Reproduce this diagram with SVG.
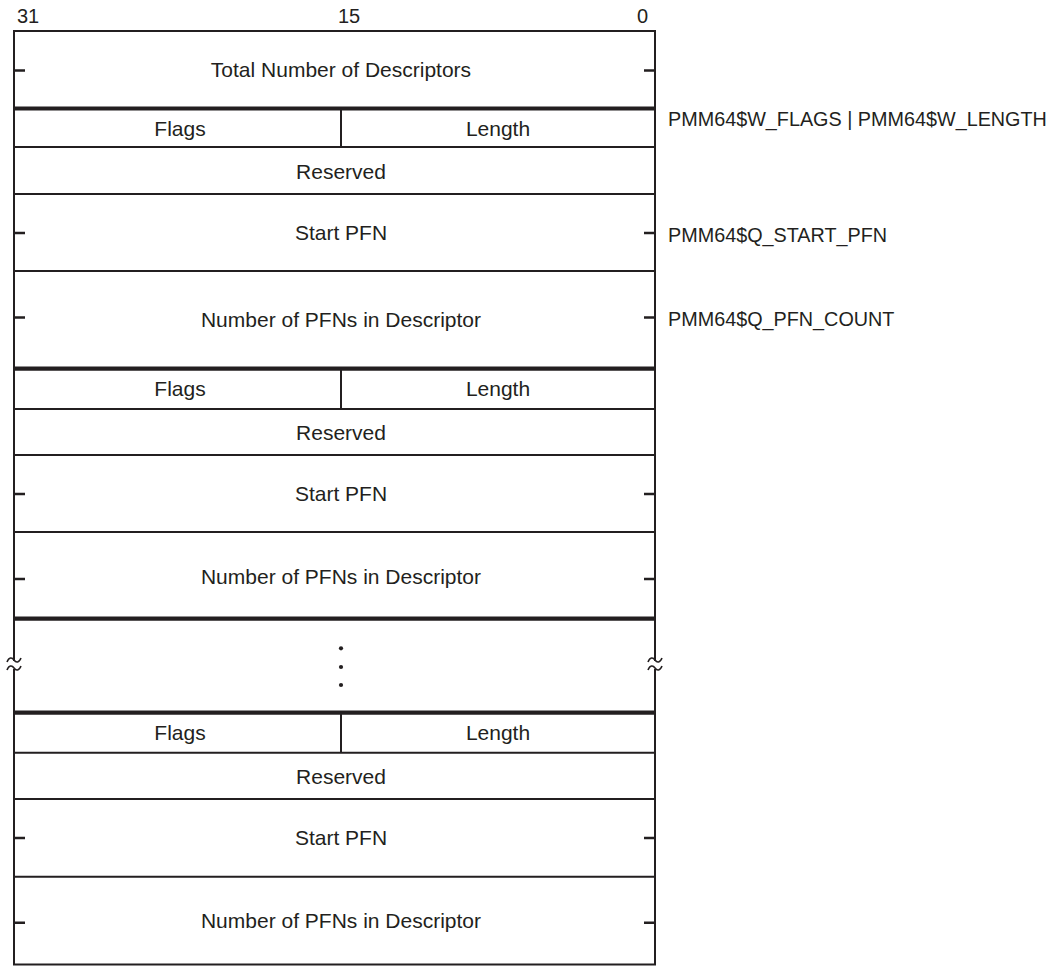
<svg xmlns="http://www.w3.org/2000/svg" width="1063" height="966" viewBox="0 0 1063 966">
<style>
.t{font-family:"Liberation Sans",Arial,Helvetica,sans-serif;font-size:21px;fill:#231f20;text-anchor:middle}
.r{font-family:"Liberation Sans",Arial,Helvetica,sans-serif;font-size:19.8px;fill:#231f20}
.h{font-family:"Liberation Sans",Arial,Helvetica,sans-serif;font-size:20px;fill:#231f20}
.thin{stroke:#231f20;stroke-width:2;fill:none}
.thick{stroke:#231f20;stroke-width:4.2;fill:none}
.tick{stroke:#231f20;stroke-width:2.6;fill:none}
.wave{stroke:#231f20;stroke-width:1.6;fill:none}
</style>
<rect width="1063" height="966" fill="#ffffff"/>
<g id="header">
<text class="h" x="17" y="23">31</text>
<text class="h" x="338" y="23">15</text>
<text class="h" x="637" y="23">0</text>
</g>
<g id="frame">
<path class="thin" d="M14,661 V31 H655 V661 M14,669 V964.5 H655 V669" stroke-width="2.4"/>
</g>
<g id="total">
<text class="t" x="341" y="77">Total Number of Descriptors</text>
<path class="tick" d="M14,70.5 H25 M644,70.5 H655"/>
</g>
<g id="desc1">
<path class="thick" d="M14,108.5 H655"/>
<path class="thin" d="M341,108.5 V147 M14,147 H655 M14,194 H655 M14,271 H655"/>
<text class="t" x="180" y="135.5">Flags</text>
<text class="t" x="498" y="135.5">Length</text>
<text class="t" x="341" y="179">Reserved</text>
<text class="t" x="341" y="240">Start PFN</text>
<path class="tick" d="M14,233 H25 M644,233 H655 M14,317.5 H25 M644,317.5 H655"/>
<text class="t" x="341" y="326.5">Number of PFNs in Descriptor</text>
</g>
<g id="desc2">
<path class="thick" d="M14,368.7 H655"/>
<path class="thin" d="M341,368.7 V409 M14,409 H655 M14,455 H655 M14,532 H655"/>
<text class="t" x="180" y="396">Flags</text>
<text class="t" x="498" y="396">Length</text>
<text class="t" x="341" y="440">Reserved</text>
<text class="t" x="341" y="501">Start PFN</text>
<path class="tick" d="M14,494 H25 M644,494 H655 M14,579 H25 M644,579 H655"/>
<text class="t" x="341" y="584">Number of PFNs in Descriptor</text>
</g>
<g id="ellipsis">
<path class="thick" d="M14,618.7 H655"/>
<circle cx="341" cy="648.3" r="2.1" fill="#231f20"/>
<circle cx="341" cy="667" r="2.1" fill="#231f20"/>
<circle cx="341" cy="685" r="2.1" fill="#231f20"/>
<path class="wave" d="M7,662 C9,657 12,657 14,660 C16,663 19,663 21,658 M7,670 C9,665 12,665 14,668 C16,671 19,671 21,666"/>
<path class="wave" d="M648,662 C650,657 653,657 655,660 C657,663 660,663 662,658 M648,670 C650,665 653,665 655,668 C657,671 660,671 662,666"/>
</g>
<g id="desc3">
<path class="thick" d="M14,712.7 H655"/>
<path class="thin" d="M341,712.7 V752.7 M14,752.7 H655 M14,799 H655 M14,876.7 H655"/>
<text class="t" x="180" y="740">Flags</text>
<text class="t" x="498" y="740">Length</text>
<text class="t" x="341" y="784">Reserved</text>
<text class="t" x="341" y="845">Start PFN</text>
<path class="tick" d="M14,838 H25 M644,838 H655 M14,922.7 H25 M644,922.7 H655"/>
<text class="t" x="341" y="928">Number of PFNs in Descriptor</text>
</g>
<g id="fieldnames">
<text class="r" x="668" y="126">PMM64$W_FLAGS | PMM64$W_LENGTH</text>
<text class="r" x="668" y="241.5">PMM64$Q_START_PFN</text>
<text class="r" x="668" y="325.5">PMM64$Q_PFN_COUNT</text>
</g>
<g id="connectors"></g>
</svg>
